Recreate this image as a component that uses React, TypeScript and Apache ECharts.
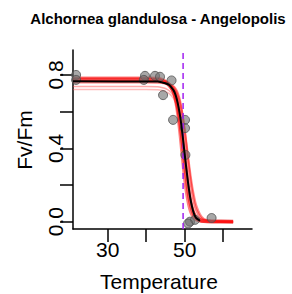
import React, { useEffect, useRef } from "react";
import * as echarts from "echarts";

const TITLE = "Alchornea glandulosa - Angelopolis";
const X_NAME = "Temperature";
const Y_NAME = "Fv/Fm";
const X_TICKS = [30, 40, 50, 60];
const X_LABELS = [30, 50];
const Y_TICKS = [0, 0.2, 0.4, 0.6, 0.8];
const Y_LABELS = [0, 0.4, 0.8];
const T50 = 49.6;

// observed points [temperature, Fv/Fm]
const POINTS: [number, number][] = [
  [21.8, 0.8], [21.8, 0.773], [39.7, 0.795], [39.4, 0.773], [42.3, 0.795],
  [43.6, 0.79], [46.6, 0.77], [44.4, 0.69], [47.0, 0.555], [50.1, 0.555],
  [50.1, 0.51], [50.2, 0.364], [51.4, 0.0], [52.7, 0.01], [57.0, 0.02],
  [50.9, -0.01],
];

// fitted curve
const FIT_T = [21, 43, 44, 45, 46, 47, 47.5, 48, 48.5, 49, 49.5, 50, 50.5, 51, 51.5, 52, 52.5, 53, 54];
const FIT_Y = [0.765, 0.764, 0.76, 0.755, 0.745, 0.72, 0.7, 0.665, 0.615, 0.55, 0.465, 0.37, 0.28, 0.195, 0.125, 0.075, 0.04, 0.02, 0.005];

// bootstrap curves
const BOOT_T = [21, 40, 43, 44, 45, 46, 47, 47.5, 48, 48.5, 49, 49.5, 50, 50.5, 51, 51.5, 52, 52.5, 53, 54, 55, 57, 62.6];
const BOOT_A = [0.775, 0.775, 0.772, 0.768, 0.76, 0.745, 0.715, 0.69, 0.65, 0.595, 0.52, 0.43, 0.335, 0.245, 0.165, 0.105, 0.065, 0.038, 0.022, 0.008, 0.003, 0.001, 0];
const BOOT_B = [0.76, 0.76, 0.759, 0.758, 0.755, 0.75, 0.738, 0.728, 0.71, 0.68, 0.635, 0.57, 0.49, 0.4, 0.31, 0.225, 0.155, 0.1, 0.065, 0.025, 0.009, 0.002, 0];
const BOOT_C = [0.737, 0.737, 0.735, 0.732, 0.726, 0.714, 0.69, 0.67, 0.64, 0.595, 0.53, 0.45, 0.36, 0.27, 0.19, 0.125, 0.08, 0.048, 0.028, 0.01, 0.004, 0.001, 0];
const BOOT_D = [0.72, 0.72, 0.719, 0.716, 0.71, 0.698, 0.675, 0.655, 0.625, 0.58, 0.515, 0.435, 0.345, 0.255, 0.175, 0.115, 0.07, 0.042, 0.024, 0.008, 0.003, 0.001, 0];
const BOOT_E = [0.785, 0.785, 0.783, 0.778, 0.768, 0.75, 0.705, 0.665, 0.605, 0.52, 0.42, 0.315, 0.22, 0.145, 0.09, 0.052, 0.03, 0.016, 0.008, 0.002, 0.001, 0, 0];
const BOOT_F = [0.77, 0.77, 0.768, 0.765, 0.76, 0.752, 0.735, 0.72, 0.7, 0.67, 0.63, 0.575, 0.505, 0.425, 0.34, 0.26, 0.19, 0.135, 0.09, 0.04, 0.015, 0.003, 0];

const FONT = "Liberation Sans, Arial, sans-serif";

export default function App() {
  const ref = useRef<HTMLDivElement>(null);
  useEffect(() => {
    if (!ref.current) return;
    const chart = echarts.init(ref.current, undefined, { renderer: "svg" });
    const zip = (xs: number[], ys: number[]) => xs.map((x, i) => [x, ys[i]]);
    const boots = [
      { d: BOOT_A, w: 4, c: "rgba(235,30,30,0.75)" },
      { d: BOOT_B, w: 2.5, c: "rgba(255,0,0,0.5)" },
      { d: BOOT_C, w: 1.5, c: "rgba(255,60,60,0.45)" },
      { d: BOOT_D, w: 1.5, c: "rgba(255,80,80,0.4)" },
      { d: BOOT_E, w: 2.5, c: "rgba(255,0,0,0.5)" },
      { d: BOOT_F, w: 2, c: "rgba(255,0,0,0.45)" },
    ];
    const series: any[] = boots.map((b) => ({
      type: "line",
      data: zip(BOOT_T, b.d),
      showSymbol: false,
      symbol: "none",
      smooth: 0.3,
      lineStyle: { color: b.c, width: b.w },
      z: 2,
    }));
    series.push({
      type: "scatter",
      data: POINTS,
      symbolSize: 9,
      itemStyle: { color: "rgba(110,110,110,0.75)", borderColor: "#505050", borderWidth: 1 },
      z: 3,
    });
    series.push({
      type: "line",
      data: [[T50, -0.04], [T50, 0.936]],
      showSymbol: false,
      symbol: "none",
      lineStyle: { color: "#a020f0", width: 1.5, type: [6, 4] },
      z: 4,
    });
    series.push({
      type: "line",
      data: zip(FIT_T, FIT_Y),
      showSymbol: false,
      symbol: "none",
      smooth: 0.3,
      lineStyle: { color: "#000", width: 2 },
      z: 5,
    });
    chart.setOption({
      animation: false,
      grid: { left: 73, right: 40, top: 50, bottom: 65 },
      xAxis: {
        type: "value",
        min: 21,
        max: 67.5,
        axisLine: { show: true, onZero: false, lineStyle: { color: "#000", width: 1.5 } },
        axisTick: { show: true, customValues: X_TICKS, length: 13, lineStyle: { color: "#000", width: 1.5 } },
        axisLabel: { customValues: X_LABELS, fontSize: 21, color: "#000", fontFamily: FONT, margin: 10 },
        splitLine: { show: false },
      },
      yAxis: {
        type: "value",
        min: -0.04,
        max: 0.936,
        axisLine: { show: true, onZero: false, lineStyle: { color: "#000", width: 1.5 } },
        axisTick: { show: true, customValues: Y_TICKS, length: 13, lineStyle: { color: "#000", width: 1.5 } },
        axisLabel: {
          customValues: Y_LABELS,
          fontSize: 21,
          color: "#000",
          fontFamily: FONT,
          rotate: 90,
          margin: 7,
          formatter: (v: number) => v.toFixed(1),
        },
        splitLine: { show: false },
      },
      graphic: [
        {
          type: "text",
          x: 158,
          y: 18,
          style: { text: TITLE, fontSize: 15, fontWeight: "bold", fontFamily: FONT, fill: "#000", textAlign: "center", textVerticalAlign: "middle" },
        },
        {
          type: "text",
          x: 159,
          y: 281,
          style: { text: X_NAME, fontSize: 21, fontFamily: FONT, fill: "#000", textAlign: "center", textVerticalAlign: "middle" },
        },
        {
          type: "text",
          x: 24,
          y: 140,
          rotation: Math.PI / 2,
          style: { text: Y_NAME, fontSize: 21, fontFamily: FONT, fill: "#000", textAlign: "center", textVerticalAlign: "middle" },
        },
      ],
      series,
    });
    return () => chart.dispose();
  }, []);
  return <div ref={ref} style={{ width: 292, height: 294, position: "absolute", left: 0, top: 0 }} />;
}
